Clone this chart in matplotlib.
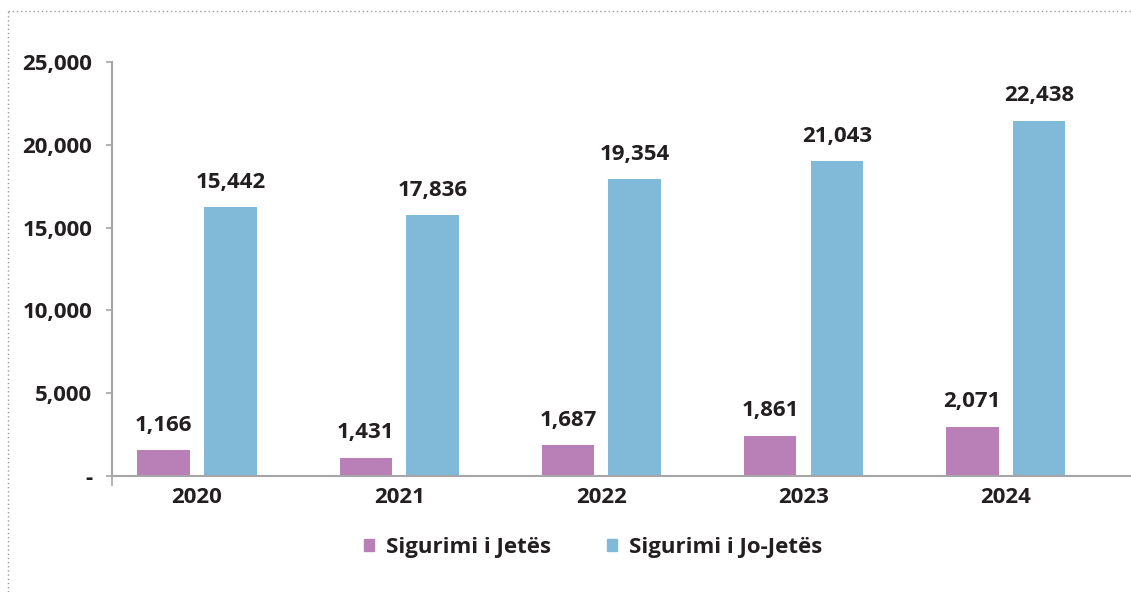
import matplotlib
matplotlib.use("Agg")
import matplotlib.pyplot as plt
from matplotlib.patches import Patch
from matplotlib.lines import Line2D
from matplotlib.ticker import FuncFormatter

# ---- data ----
years = ["2020", "2021", "2022", "2023", "2024"]
series_names = ["Sigurimi i Jetës", "Sigurimi i Jo-Jetës"]
# bar heights as drawn in the picture
jetes_bars = [1570, 1090, 1870, 2420, 2960]
jojetes_bars = [16240, 15760, 17930, 19020, 21440]
# data labels as printed in the picture
jetes_labels = ["1,166", "1,431", "1,687", "1,861", "2,071"]
jojetes_labels = ["15,442", "17,836", "19,354", "21,043", "22,438"]
yticks = [0, 5000, 10000, 15000, 20000, 25000]

# ---- style ----
plt.rcParams['font.family'] = ['Open Sans', 'DejaVu Sans']
plt.rcParams['font.weight'] = 'bold'
TXT = '#231F20'
C_JET = '#B980B8'
C_JO = '#81B9D9'
AX_C = '#A6A6A6'
FS = 16

W, H = 1131, 592
fig = plt.figure(figsize=(W / 100, H / 100), dpi=100)
ax_left = 111.7 / W
ax_bottom = (H - 476) / H
ax_top = 1 - 62 / H
ax = fig.add_axes([ax_left, ax_bottom, 1 - ax_left, ax_top - ax_bottom])

x = list(range(len(years)))
off = 0.165
bw = 0.26
b1 = ax.bar([i - off for i in x], jetes_bars, width=bw, color=C_JET, zorder=2)
b2 = ax.bar([i + off for i in x], jojetes_bars, width=bw, color=C_JO, zorder=2)

for rects, labs in ((b1, jetes_labels), (b2, jojetes_labels)):
    for r, lab in zip(rects, labs):
        ax.annotate(lab, (r.get_x() + r.get_width() / 2, r.get_height()),
                    xytext=(0, 25), textcoords='offset pixels',
                    ha='center', va='center', fontsize=FS,
                    fontweight='bold', color=TXT, clip_on=False)

xl = -0.422
ax.set_xlim(xl, 4.62)
ax.set_ylim(0, 25000)
ax.set_yticks(yticks)
ax.yaxis.set_major_formatter(FuncFormatter(lambda v, p: '-' if v == 0 else f"{int(v):,}"))
ax.set_xticks(x)
ax.set_xticklabels(years)
ax.set_xticks([xl], minor=True)
ax.tick_params(axis='x', which='major', length=0, pad=8, labelsize=FS, colors=TXT)
ax.tick_params(axis='x', which='minor', length=7, width=1.2, color=AX_C)
ax.tick_params(axis='y', length=4, width=1.2, color=AX_C, pad=10, labelsize=FS, labelcolor=TXT)
for lab in ax.get_xticklabels() + ax.get_yticklabels():
    lab.set_fontweight('bold')

for s in ('top', 'right'):
    ax.spines[s].set_visible(False)
for s in ('left', 'bottom'):
    ax.spines[s].set_color(AX_C)
    ax.spines[s].set_linewidth(1.5)

handles = [Patch(color=C_JET), Patch(color=C_JO)]
leg = fig.legend(handles, series_names, loc='center', bbox_to_anchor=(593 / W, 1 - 547 / H),
                 ncol=2, frameon=False, fontsize=FS, handlelength=0.45, handleheight=0.45,
                 handletextpad=0.55, columnspacing=2.5)
for t in leg.get_texts():
    t.set_color(TXT)
    t.set_fontweight('bold')

# dotted frame (top and left)
bx = 8 / W
by = 1 - 11 / H
fig.add_artist(Line2D([bx, bx], [0, by], transform=fig.transFigure, color='#9A9A9A',
                      linestyle=(0, (1, 2)), linewidth=1))
fig.add_artist(Line2D([bx, 1], [by, by], transform=fig.transFigure, color='#9A9A9A',
                      linestyle=(0, (1, 2)), linewidth=1))

fig.savefig('out.png', dpi=100)
